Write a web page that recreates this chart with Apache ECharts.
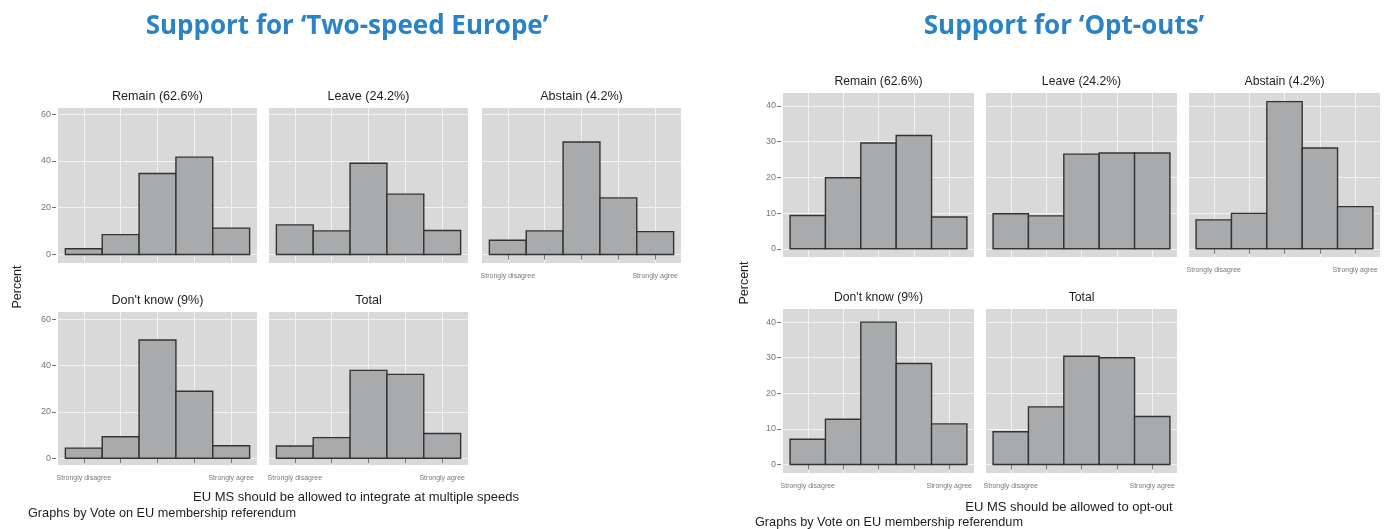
<!DOCTYPE html>
<html>
<head>
<meta charset="utf-8">
<title>Support for two-speed Europe and opt-outs</title>
<script src="https://cdn.jsdelivr.net/npm/echarts@6.0.0/dist/echarts.min.js"></script>
<style>
  html, body { margin: 0; padding: 0; background: #fff; }
  #chart { width: 1389px; height: 529px; }
</style>
</head>
<body>
<div id="chart"></div>
<script>
// answer scale, 1 = strongly disagree ... 5 = strongly agree
var answerPos = [1, 2, 3, 4, 5];
var answerLabels = ['Strongly disagree', 'Strongly agree'];
var answerLabelPos = [1, 5];

// Support for 'Two-speed Europe' (percent)
var speedRemain = [2.5, 8.5, 34.6, 41.6, 11.3];
var speedLeave = [12.7, 10.1, 39.0, 25.8, 10.3];
var speedAbstain = [6.1, 10.1, 48.1, 24.2, 9.8];
var speedDontKnow = [4.4, 9.3, 51.0, 28.9, 5.4];
var speedTotal = [5.3, 8.9, 37.9, 36.2, 10.7];
var speedTicks = [0, 20, 40, 60];

// Support for 'Opt-outs' (percent)
var optRemain = [9.3, 19.9, 29.6, 31.7, 8.9];
var optLeave = [9.8, 9.2, 26.5, 26.8, 26.8];
var optAbstain = [8.1, 9.9, 41.2, 28.2, 11.8];
var optDontKnow = [7.1, 12.7, 40.0, 28.4, 11.4];
var optTotal = [9.2, 16.2, 30.4, 30.0, 13.5];
var optTicks = [0, 10, 20, 30, 40];

var groupNames = ['Remain (62.6%)', 'Leave (24.2%)', 'Abstain (4.2%)', "Don't know (9%)", 'Total'];

// panel boxes: [left, top, width, height], y range, which axes show
var panels = [
  { name: groupNames[0], values: speedRemain, box: [58, 108, 199, 155], y: [-3.6, 62.6], ticks: speedTicks, showY: true, showX: false },
  { name: groupNames[1], values: speedLeave, box: [269, 108, 199, 155], y: [-3.6, 62.6], ticks: speedTicks, showY: false, showX: false },
  { name: groupNames[2], values: speedAbstain, box: [482, 108, 199, 155], y: [-3.6, 62.6], ticks: speedTicks, showY: false, showX: true },
  { name: groupNames[3], values: speedDontKnow, box: [58, 312, 199, 153], y: [-2.9, 63.1], ticks: speedTicks, showY: true, showX: true },
  { name: groupNames[4], values: speedTotal, box: [269, 312, 199, 153], y: [-2.9, 63.1], ticks: speedTicks, showY: false, showX: true },
  { name: groupNames[0], values: optRemain, box: [783, 93, 191, 164], y: [-2.3, 43.6], ticks: optTicks, showY: true, showX: false },
  { name: groupNames[1], values: optLeave, box: [986, 93, 191, 164], y: [-2.3, 43.6], ticks: optTicks, showY: false, showX: false },
  { name: groupNames[2], values: optAbstain, box: [1189, 93, 191, 164], y: [-2.3, 43.6], ticks: optTicks, showY: false, showX: true },
  { name: groupNames[3], values: optDontKnow, box: [783, 309, 191, 164], y: [-2.4, 43.7], ticks: optTicks, showY: true, showX: true },
  { name: groupNames[4], values: optTotal, box: [986, 309, 191, 164], y: [-2.4, 43.7], ticks: optTicks, showY: false, showX: true }
];

var FONT = '"Liberation Sans", Arial, Helvetica, sans-serif';

function renderBar(params, api) {
  var x = api.value(0);
  var v = api.value(1);
  var p0 = api.coord([x - 0.5, 0]);
  var p1 = api.coord([x + 0.5, v]);
  return {
    type: 'rect',
    shape: { x: p0[0], y: p1[1], width: p1[0] - p0[0], height: p0[1] - p1[1] },
    style: { fill: '#a9aaac', stroke: '#333', lineWidth: 1.4 }
  };
}

var grids = [], xAxes = [], yAxes = [], series = [], texts = [];

panels.forEach(function (p, i) {
  grids.push({ left: p.box[0], top: p.box[1], width: p.box[2], height: p.box[3], backgroundColor: '#d9d9d9', show: true, borderWidth: 0 });
  xAxes.push({
    type: 'value', gridIndex: i, min: 0.3, max: 5.7, offset: 3,
    axisLine: { show: false },
    axisTick: { show: p.showX, length: 5, customValues: answerPos, lineStyle: { color: '#777', width: 1 } },
    axisLabel: {
      show: p.showX, customValues: answerLabelPos, margin: 7, fontSize: 7, color: '#7a7a7a', fontFamily: FONT,
      formatter: function (val) { return val === 1 ? answerLabels[0] : answerLabels[1]; }
    },
    splitLine: { show: true, lineStyle: { color: '#f2f2f2', width: 1 } }
  });
  yAxes.push({
    type: 'value', gridIndex: i, min: p.y[0], max: p.y[1], offset: 2,
    axisLine: { show: false },
    axisTick: { show: p.showY, length: 4, customValues: p.ticks, lineStyle: { color: '#777', width: 1 } },
    axisLabel: { show: p.showY, customValues: p.ticks, margin: 5, fontSize: 9, color: '#777', fontFamily: FONT },
    splitLine: { show: true, lineStyle: { color: '#f2f2f2', width: 1 } }
  });
  series.push({
    type: 'custom', xAxisIndex: i, yAxisIndex: i, renderItem: renderBar,
    data: p.values.map(function (v, k) { return [answerPos[k], v]; }),
    silent: true
  });
  texts.push({
    type: 'text', x: p.box[0] + p.box[2] / 2, y: p.box[1] - 11,
    style: { text: p.name, fill: '#1e1e1e', font: (i < 5 ? '12.6px ' : '12.2px ') + FONT, textAlign: 'center', textVerticalAlign: 'middle' }
  });
});

function label(text, x, y, size, opts) {
  var t = {
    type: 'text', x: x, y: y,
    style: { text: text, fill: '#1e1e1e', font: size + 'px ' + FONT, textAlign: 'center', textVerticalAlign: 'middle' }
  };
  if (opts) { for (var k in opts) t[k] = opts[k]; }
  return t;
}

var title1 = label('Support for \u2018Two-speed Europe\u2019', 347, 27, 24);
var title2 = label('Support for \u2018Opt-outs\u2019', 1064, 27, 24);
[title1, title2].forEach(function (t) {
  t.style.fill = '#2a83c6';
  t.style.font = 'bold 26px "Open Sans", Lato, sans-serif';
});
texts.push(title1, title2);

texts.push(label('Percent', 18, 287, 12.5, { rotation: Math.PI / 2 }));
texts.push(label('Percent', 745, 283, 12.5, { rotation: Math.PI / 2 }));
texts.push(label('EU MS should be allowed to integrate at multiple speeds', 356, 497, 13));
texts.push(label('EU MS should be allowed to opt-out', 1069, 507, 13));
var g1 = label('Graphs by Vote on EU membership referendum', 28, 513, 12.7);
g1.style.textAlign = 'left';
var g2 = label('Graphs by Vote on EU membership referendum', 755, 522, 12.7);
g2.style.textAlign = 'left';
texts.push(g1, g2);

var myChart = echarts.init(document.getElementById('chart'));
myChart.setOption({
  animation: false,
  grid: grids,
  xAxis: xAxes,
  yAxis: yAxes,
  series: series,
  graphic: texts
});
</script>
</body>
</html>
